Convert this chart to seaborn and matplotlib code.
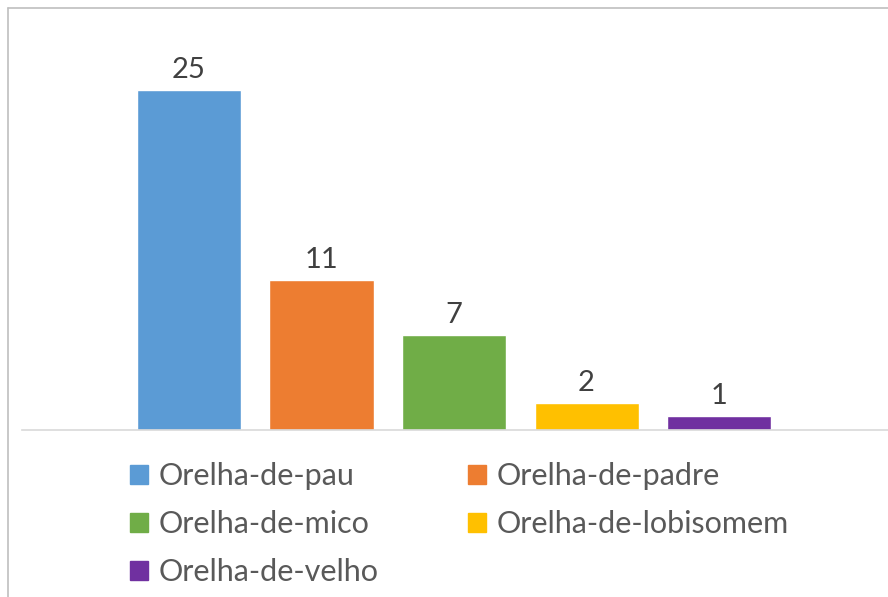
import matplotlib
matplotlib.use("Agg")
import matplotlib.pyplot as plt
import seaborn as sns
import pandas as pd
from matplotlib.lines import Line2D

categories = ["Orelha-de-pau", "Orelha-de-padre", "Orelha-de-mico", "Orelha-de-lobisomem", "Orelha-de-velho"]
values = [25, 11, 7, 2, 1]
colors = ["#5B9BD5", "#ED7D31", "#70AD47", "#FFC000", "#7030A0"]

df = pd.DataFrame({"cat": categories, "n": values})

sns.set_theme(style="white")
plt.rcParams["font.family"] = ["Lato", "DejaVu Sans"]

W, H = 888, 597
fig = plt.figure(figsize=(W / 100, H / 100), dpi=100)
ax = fig.add_axes([22 / W, (H - 430) / H, 866 / W, (430 - 8) / H])

sns.barplot(data=df, x="cat", y="n", hue="cat", palette=colors, width=0.785,
            legend=False, ax=ax, saturation=1)

ax.set_xlim(-1.26, 5.275)
ax.set_ylim(0, 31.03)
ax.set_xlabel("")
ax.set_ylabel("")
ax.set_xticks([])
ax.set_yticks([])
for s in ["top", "left", "right"]:
    ax.spines[s].set_visible(False)
ax.spines["bottom"].set_color("#D9D9D9")
ax.spines["bottom"].set_linewidth(1.2)

for c in ax.containers:
    ax.bar_label(c, fmt="%d", padding=5, fontsize=21, color="#404040")

# legend, row-wise order
patches = [plt.Rectangle((0, 0), 1, 1, color=col) for col in colors]
order = [0, 2, 4, 1, 3]
fig.legend([patches[i] for i in order], [categories[i] for i in order],
           ncol=2, loc="upper left", bbox_to_anchor=(130 / W, 1 - 462 / H),
           frameon=False, fontsize=22, labelcolor="#595959",
           handlelength=0.6, handleheight=0.6, handletextpad=0.35,
           columnspacing=2.9, labelspacing=0.66, borderaxespad=0, borderpad=0)

# chart border
fig.add_artist(Line2D([8 / W, 1], [1 - 8 / H, 1 - 8 / H], color="#BFBFBF", lw=1.2))
fig.add_artist(Line2D([8 / W, 8 / W], [0, 1 - 8 / H], color="#BFBFBF", lw=1.2))

fig.savefig("out.png", dpi=100)
